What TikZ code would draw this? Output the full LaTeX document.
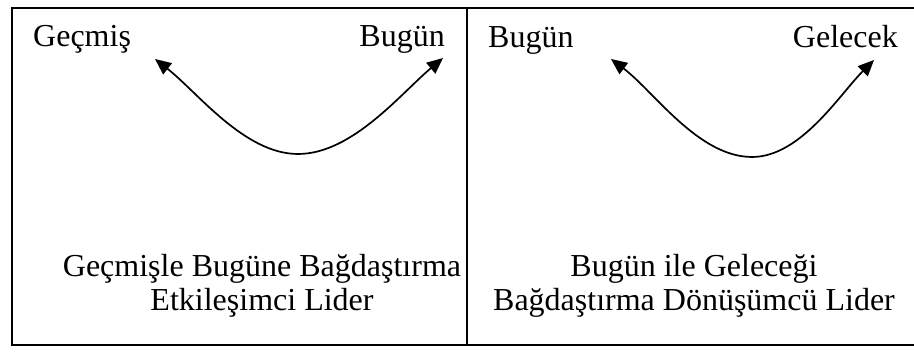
\documentclass[tikz,border=0pt]{standalone}
\usepackage{fontspec}
\setmainfont{Liberation Serif}
\usetikzlibrary{arrows.meta}

\begin{document}
\begin{tikzpicture}[x=1pt,y=1pt,>={Triangle[length=16pt,width=14pt]},
  lbl/.style={inner sep=0pt,font=\fontsize{32}{34}\selectfont},
  captext/.style={lbl,align=center}]
  \useasboundingbox (0,0) rectangle (914,352);

  \coordinate (TL) at (12,344);
  \coordinate (BL) at (12,7);
  \coordinate (TR) at (914,344);
  \coordinate (BR) at (914,7);
  \coordinate (M1) at (467,344);
  \coordinate (M2) at (467,7);

  \draw[line width=1.8pt] (TR) -- (TL) -- (BL) -- (BR);
  \draw[line width=1.5pt] (M1) -- (M2);

  \node[lbl,anchor=base west] (gecmis) at (33,305) {Geçmiş};
  \node[lbl,anchor=base east] (bugunA) at (445,305) {Bugün};
  \node[lbl,anchor=base west] (bugunB) at (488,304) {Bugün};
  \node[lbl,anchor=base east] (gelecek) at (898,304) {Gelecek};

  \node[captext] (capA) at (262,66) {Geçmişle Bugüne Bağdaştırma\\Etkileşimci Lider};
  \node[captext] (capB) at (694,66) {Bugün ile Geleceği\\Bağdaştırma Dönüşümcü Lider};

  \coordinate (la) at (155,293);
  \coordinate (lb) at (298,198);
  \coordinate (lc) at (443,294);
  \coordinate (ra) at (611,293);
  \coordinate (rb) at (752,195);
  \coordinate (rc) at (874,292);

  \draw[<->,line width=1.7pt] (la) to[out=-38,in=180,looseness=0.8] (lb)
    to[out=0,in=-140,looseness=0.8] (lc);
  \draw[<->,line width=1.7pt] (ra) to[out=-37,in=180,looseness=0.8] (rb)
    to[out=0,in=-135,looseness=0.8] (rc);
\end{tikzpicture}
\end{document}
